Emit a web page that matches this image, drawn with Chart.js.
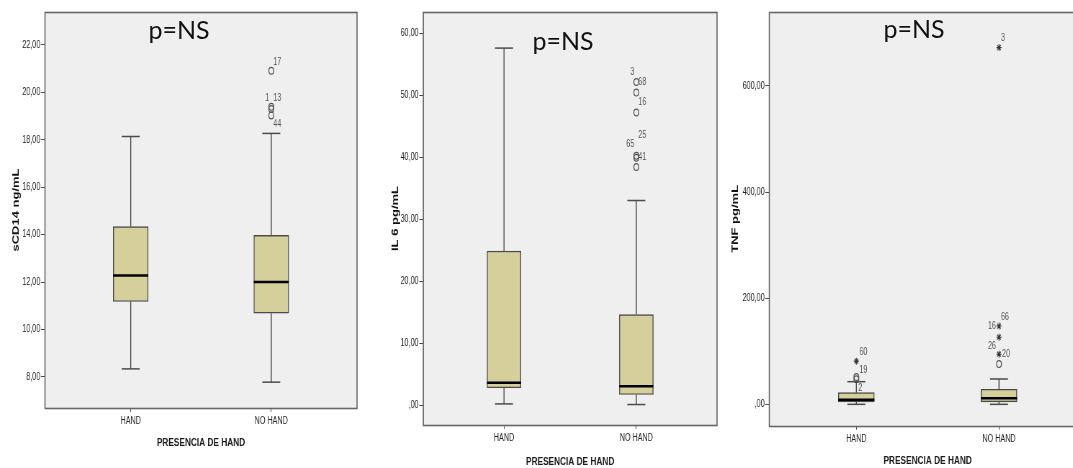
<!DOCTYPE html>
<html>
<head>
<meta charset="utf-8">
<script src="https://cdn.jsdelivr.net/npm/chart.js@4.4.1/dist/chart.umd.min.js"></script>
<style>
  html, body { margin: 0; padding: 0; background: #fff; overflow: hidden; width: 1073px; height: 468px; position: relative; }
  canvas { position: absolute; top: 0; }
  .pns { position: absolute; font-family: Lato, 'Open Sans', sans-serif; font-size: 25px; line-height: 1; color: #111; transform: translate(-50%, -50%); white-space: nowrap; }
</style>
</head>
<body>
<canvas id="cd14"></canvas>
<canvas id="il6"></canvas>
<canvas id="tnf"></canvas>
<div class="pns" style="left:179px;top:29px">p=NS</div>
<div class="pns" style="left:563px;top:40px">p=NS</div>
<div class="pns" style="left:914px;top:28px">p=NS</div>
<script>
const groups = ['HAND', 'NO HAND'];

// sCD14 ng/mL
const cd14Lo = [8.34, 7.78];
const cd14Q1 = [11.18, 10.69];
const cd14Med = [12.28, 12.00];
const cd14Q3 = [14.34, 13.97];
const cd14Hi = [18.14, 18.27];
const cd14Circles = [[], [20.91, 19.39, 19.30, 19.03]];
const cd14Stars = [[], []];
const cd14Ids = ['17', '1', '13', '44'];
const cd14IdGroup = [2, 2, 2, 2];
const cd14IdAt = [20.91, 19.39, 19.39, 19.03];
const cd14Ticks = [8, 10, 12, 14, 16, 18, 20, 22];

// IL 6 pg/mL
const il6Lo = [0.2, 0.1];
const il6Q1 = [2.8, 1.72];
const il6Med = [3.6, 3.06];
const il6Q3 = [24.84, 14.6];
const il6Hi = [57.58, 33.0];
const il6Circles = [[], [52.1, 50.4, 47.2, 40.2, 39.9, 38.4]];
const il6Stars = [[], []];
const il6Ids = ['3', '68', '16', '25', '65', '41'];
const il6IdGroup = [2, 2, 2, 2, 2, 2];
const il6IdAt = [52.1, 52.1, 47.2, 40.2, 40.2, 39.9];
const il6Ticks = [0, 10, 20, 30, 40, 50, 60];

// TNF pg/mL
const tnfLo = [0.7, 0.7];
const tnfQ1 = [5.1, 5.4];
const tnfMed = [9.2, 12.0];
const tnfQ3 = [22.6, 29.0];
const tnfHi = [43.3, 48.4];
const tnfCircles = [[52.0, 47.8], [76.5]];
const tnfStars = [[82.0], [672, 148, 127, 95]];
const tnfIds = ['60', '19', '2', '3', '66', '16', '26', '20'];
const tnfIdGroup = [1, 1, 1, 2, 2, 2, 2, 2];
const tnfIdAt = [82.0, 52.0, 47.8, 672, 148, 148, 127, 95];
const tnfTicks = [0, 200, 400, 600];

const BOX_FILL = '#d4cf9b';
const EDGE = '#4a4a4a';
const FRAME = '#666';
const PLOT_BG = '#efefef';
const FONT = "'Liberation Sans', Arial, sans-serif";
// the source figure is squeezed horizontally; canvases are drawn wider and shown narrower
const SQ = 0.72;
const CANVAS_H = 472;

function fmt(v) {
    return v === 0 ? ',00' : v.toFixed(2).replace('.', ',');
}

const boxDecor = {
    id: 'boxDecor',
    beforeDraw(chart) {
        const { ctx, chartArea: a } = chart;
        ctx.save();
        ctx.fillStyle = PLOT_BG;
        ctx.fillRect(a.left, a.top, a.right - a.left, a.bottom - a.top);
        ctx.restore();
    },
    afterDatasetsDraw(chart, args, o) {
        const { ctx, scales: { x, y } } = chart;
        const seg = (x1, y1, x2, y2) => {
            ctx.beginPath();
            ctx.moveTo(x1, y1);
            ctx.lineTo(x2, y2);
            ctx.stroke();
        };
        ctx.save();
        o.lo.forEach((lo, i) => {
            const cx = x.getPixelForValue(i + 1);
            ctx.strokeStyle = EDGE;
            ctx.lineWidth = 1.4;
            seg(cx, y.getPixelForValue(lo), cx, y.getPixelForValue(o.q1[i]));
            seg(cx, y.getPixelForValue(o.q3[i]), cx, y.getPixelForValue(o.hi[i]));
            ctx.lineWidth = 1.5;
            seg(cx - o.capW / 2, y.getPixelForValue(lo), cx + o.capW / 2, y.getPixelForValue(lo));
            seg(cx - o.capW / 2, y.getPixelForValue(o.hi[i]), cx + o.capW / 2, y.getPixelForValue(o.hi[i]));
            ctx.strokeStyle = '#000';
            ctx.lineWidth = 2.5;
            seg(cx - o.boxW / 2, y.getPixelForValue(o.med[i]), cx + o.boxW / 2, y.getPixelForValue(o.med[i]));
        });
        ctx.fillStyle = '#555';
        ctx.font = '10px ' + FONT;
        ctx.textBaseline = 'middle';
        o.ids.forEach((txt, i) => {
            const p = o.idPos[i];
            ctx.textAlign = p[2];
            ctx.fillText(txt, x.getPixelForValue(o.idGroup[i]) + p[0] / SQ, y.getPixelForValue(o.idAt[i]) + p[1]);
        });
        ctx.restore();
    },
    afterDraw(chart) {
        const { ctx, chartArea: a } = chart;
        ctx.save();
        ctx.strokeStyle = FRAME;
        ctx.lineWidth = 1.6;
        ctx.strokeRect(a.left, Math.round(a.top) + 0.5, a.right - a.left, Math.round(a.bottom - a.top));
        ctx.restore();
    }
};

function flatten(lists) {
    const out = [];
    lists.forEach((vals, g) => vals.forEach(v => out.push({ x: g + 1, y: v })));
    return out;
}

function boxChart(id, s) {
    const canvas = document.getElementById(id);
    canvas.width = Math.round(s.cssW / SQ);
    canvas.height = CANVAS_H;
    canvas.style.left = s.cssLeft + 'px';
    canvas.style.width = s.cssW + 'px';
    canvas.style.height = CANVAS_H + 'px';

    new Chart(canvas, {
        type: 'bar',
        data: {
            datasets: [
                {
                    type: 'bar',
                    data: groups.map((g, i) => ({ x: i + 1, y: [s.q1[i], s.q3[i]] })),
                    backgroundColor: BOX_FILL,
                    borderColor: EDGE,
                    borderWidth: 1.4,
                    borderSkipped: false,
                    barThickness: s.boxW / SQ
                },
                {
                    type: 'scatter',
                    data: flatten(s.circles),
                    pointStyle: 'circle',
                    radius: 3.4,
                    backgroundColor: 'rgba(0,0,0,0)',
                    borderColor: '#555',
                    borderWidth: 1.2
                },
                {
                    type: 'scatter',
                    data: flatten(s.stars),
                    pointStyle: 'star',
                    radius: 3.5,
                    borderColor: '#333',
                    borderWidth: 1.1
                }
            ]
        },
        options: {
            responsive: false,
            animation: false,
            devicePixelRatio: 1,
            layout: { padding: { left: 0, top: 12, right: s.padR / SQ, bottom: 0 } },
            plugins: {
                legend: { display: false },
                tooltip: { enabled: false },
                boxDecor: {
                    lo: s.lo, q1: s.q1, med: s.med, q3: s.q3, hi: s.hi,
                    ids: s.ids, idGroup: s.idGroup, idAt: s.idAt, idPos: s.idPos,
                    boxW: s.boxW / SQ, capW: 18 / SQ
                }
            },
            scales: {
                x: {
                    type: 'linear',
                    min: 0.39,
                    max: 2.61,
                    offset: false,
                    afterBuildTicks: scale => { scale.ticks = groups.map((g, i) => ({ value: i + 1 })); },
                    afterFit: scale => { scale.height = CANVAS_H - s.plotBottom; },
                    grid: { offset: false, drawOnChartArea: false, drawTicks: true, tickLength: 4, tickColor: EDGE },
                    border: { display: false },
                    ticks: {
                        callback: v => groups[v - 1],
                        padding: 3.5,
                        maxRotation: 0,
                        autoSkip: false,
                        color: '#222',
                        font: { family: FONT, size: 10 }
                    },
                    title: {
                        display: true,
                        text: 'PRESENCIA DE HAND',
                        color: '#1a1a1a',
                        font: { family: FONT, size: 11.5, weight: 'bold' },
                        padding: { top: 0, bottom: CANVAS_H - 6.9 - s.xTitleY }
                    }
                },
                y: {
                    min: s.yMin,
                    max: s.yMax,
                    afterBuildTicks: scale => { scale.ticks = s.ticks.map(v => ({ value: v })); },
                    afterFit: scale => { scale.width = s.yAxisW / SQ; },
                    grid: { drawOnChartArea: false, drawTicks: true, tickLength: 4 / SQ, tickColor: EDGE },
                    border: { display: false },
                    ticks: {
                        callback: v => fmt(v),
                        padding: 1,
                        color: '#222',
                        font: { family: FONT, size: 10 }
                    },
                    title: {
                        display: true,
                        text: s.yTitle,
                        color: '#111',
                        font: { family: FONT, size: 13, weight: 'bold' },
                        padding: { top: s.yTitleX / SQ - 7.8, bottom: 0 }
                    }
                }
            }
        },
        plugins: [boxDecor]
    });
}

boxChart('cd14', {
    lo: cd14Lo, q1: cd14Q1, med: cd14Med, q3: cd14Q3, hi: cd14Hi,
    circles: cd14Circles, stars: cd14Stars,
    ids: cd14Ids, idGroup: cd14IdGroup, idAt: cd14IdAt,
    idPos: [[2, -9, 'left'], [-2, -9, 'right'], [2, -9, 'left'], [2, 9, 'left']],
    ticks: cd14Ticks, yMin: 6.69, yMax: 23.39, yTitle: 'sCD14 ng/mL',
    cssLeft: 0, cssW: 362, yAxisW: 45, padR: 5, plotBottom: 408,
    yTitleX: 16.5, xTitleY: 442.7, boxW: 35
});

boxChart('il6', {
    lo: il6Lo, q1: il6Q1, med: il6Med, q3: il6Q3, hi: il6Hi,
    circles: il6Circles, stars: il6Stars,
    ids: il6Ids, idGroup: il6IdGroup, idAt: il6IdAt,
    idPos: [[-2, -10, 'right'], [2, 0, 'left'], [2, -10, 'left'], [2, -21, 'left'], [-2, -12, 'right'], [2, 0, 'left']],
    ticks: il6Ticks, yMin: -3.2, yMax: 63.4, yTitle: 'IL 6 pg/mL',
    cssLeft: 380, cssW: 342, yAxisW: 43.3, padR: 5, plotBottom: 425,
    yTitleX: 15.7, xTitleY: 461.7, boxW: 34
});

boxChart('tnf', {
    lo: tnfLo, q1: tnfQ1, med: tnfMed, q3: tnfQ3, hi: tnfHi,
    circles: tnfCircles, stars: tnfStars,
    ids: tnfIds, idGroup: tnfIdGroup, idAt: tnfIdAt,
    idPos: [[3, -9, 'left'], [3, -7, 'left'], [2, 9, 'left'], [2, -9, 'left'], [2, -9, 'left'], [-3, 0, 'right'], [-3, 9, 'right'], [3, 0, 'left']],
    ticks: tnfTicks, yMin: -39.5, yMax: 739, yTitle: 'TNF pg/mL',
    cssLeft: 725, cssW: 366, yAxisW: 44.3, padR: 5, plotBottom: 425.7,
    yTitleX: 10.7, xTitleY: 461, boxW: 36
});
</script>
</body>
</html>
